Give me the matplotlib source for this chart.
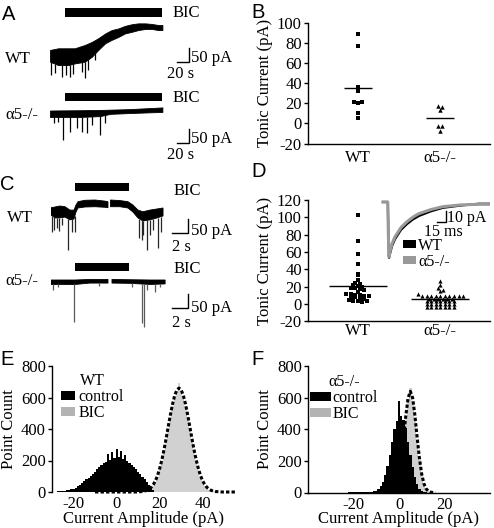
import numpy as np
import matplotlib
matplotlib.use("Agg")
import matplotlib.pyplot as plt
from matplotlib.patches import Patch

plt.rcParams['font.family'] = ['Liberation Serif', 'DejaVu Serif']
plt.rcParams['font.size'] = 12
plt.rcParams['axes.unicode_minus'] = False
plt.rcParams['axes.linewidth'] = 1.0
plt.rcParams['xtick.major.width'] = 1.0
plt.rcParams['ytick.major.width'] = 1.0

W, H = 494, 528

# ---------------- data ----------------
groups = ['WT', 'α5-/-']

# A: long BIC application (time s, current pA); noise band + sIPSCs
a_bic = (24, 176)
a_wt_t = [0, 13, 29, 39, 55, 66, 76, 87, 97, 108, 118, 129, 139, 150, 160, 171, 177]
a_wt_hi = [-2, 4, 4, 4, 16, 27, 40, 57, 69, 75, 84, 90, 93, 93, 91, 87, 87]
a_wt_lo = [-44, -56, -56, -50, -44, -26, -2, 22, 34, 45, 57, 63, 69, 73, 73, 69, 69]
a_wt_spk_t = [1.6, 8, 19, 25, 31.5, 36, 50, 55, 60, 71]
a_wt_spk_i = [-91, -84, -98, -91, -98, -88, -81, -102, -74, -38]

a_ko_t = [0, 47, 79, 95, 126, 177]
a_ko_hi = [0, 1, 2, 3, 5, 11]
a_ko_lo = [-23, -23, -20, -12, -9, -5]
a_ko_spk_t = [7, 13, 21, 31.5, 42, 51, 58, 66, 79, 87]
a_ko_spk_i = [-45, -40, -105, -76, -62, -76, -81, -52, -87, -45]

# B: tonic current per cell (pA)
b_wt = [88.5, 77, 36.5, 32, 21.5, 20, 21, 10, 5.5]
b_ko = [17, 16, 13, -3, -3, -7.5]

# C: short BIC application (time s, current pA), gap = break in recording
c_bic = (2.9, 9.4)
c_wt_t = [0, 0.48, 1.08, 1.68, 2.28, 2.76, 3.0, 3.24, 4.08, 5.28, 6.48, 6.84, 6.95,
          7.14, 8.28, 9.24, 9.84, 10.44, 11.04, 11.88, 12.73, 13.45]
c_wt_hi = [-2.5, 0, 3.6, 1, -11, -11, 7, 19, 24, 25, 21, 19, np.nan,
           25, 23, 19, 7, -11, -17, -11, -7, -3.6]
c_wt_lo = [-28.6, -39, -39, -36, -46, -43, -18, -3.6, 0, 1, -1, -2.5, np.nan,
           1, 1, -3.6, -18, -39, -50, -46, -39, -32]
c_wt_spk_t = [0.12, 0.36, 0.72, 0.96, 1.32, 2.08, 2.52, 2.88, 10.56, 10.89, 11.04,
              11.49, 11.88, 12.24, 12.88, 13.2]
c_wt_spk_i = [-89, -82, -75, -86, -64, -154, -89, -89, -111, -118, -100,
              -154, -100, -82, -146, -89]

c_ko_t = [0, 2.88, 4.68, 6.84, 7.08, 7.32, 9.48, 11.9, 13.7]
c_ko_hi = [0, 0, 2, 2, np.nan, 2, 1, 0, 0]
c_ko_lo = [-16, -16, -11, -11, np.nan, -11, -12, -16, -14]
c_ko_spk_t = [0.28, 0.84, 2.76, 5.76, 9.69, 10.96, 11.2, 11.49, 12.48, 13.1]
c_ko_spk_i = [-36, -25, -149, -21, -24, -155, -167, -36, -42, -25]

# D: tonic current per cell (pA)
d_wt = [103, 73, 58, 46, 35, 33, 28, 24, 23, 22, 21, 20, 19, 18, 17, 16, 14, 12,
        11, 10, 10, 9, 9, 8, 8, 7, 6, 5, 4, 3, 2, 3]
d_ko = [27, 22, 19, 16, 15, 12, 9, 9, 9, 9, 9, 9, 9, 9, 9, 9, 6, 6, 6, 6, 6, 6,
        3, 3, 3, 3, 3, 3, 3, 0, 0, 0, 0, 0, 0, 0, -3, -3, -3, -3, -3, -3, -3]
# D inset: averaged sIPSC (ms, pA)
ipsc_t = [0, 8, 9, 10, 12, 15, 20, 25, 30, 40, 50, 60, 80, 100, 130, 160, 178]
ipsc_wt = [0, 0, -30, -48, -44, -38, -32, -28, -24, -19, -15, -12, -8, -5, -3, -1.5, -1.5]
ipsc_ko = [0, 0, -30, -47, -42, -36, -30, -26, -22, -17, -13, -10, -6.5, -4, -2.5, -2, -2]

# E: all-point histograms, WT (1 pA bins)
e_ctl_x = list(range(-27, 18))
e_ctl_n = [4, 5, 7, 9, 12, 15, 18, 22, 28, 35, 45, 55, 70, 80, 92, 104, 116, 130, 148,
           160, 170, 182, 190, 240, 205, 255, 214, 275, 222, 258, 212, 236, 196, 185,
           172, 160, 145, 130, 112, 97, 80, 64, 45, 30, 12]
e_bic_x = list(range(15, 46))
e_bic_n = [14, 24, 40, 62, 96, 138, 192, 255, 328, 402, 478, 548, 602, 640, 690, 636,
           600, 545, 478, 402, 326, 255, 192, 138, 96, 62, 40, 24, 14, 8, 4]
e_fit_x = list(range(-10, 56))
e_fit_n = [0] * 20 + [1, 2, 3, 6, 10, 18, 29, 46, 70, 104, 148, 202, 267, 339, 416,
                      491, 559, 613, 648, 660, 648, 613, 559, 491, 416, 339, 267, 202,
                      148, 104, 70, 46, 29, 18, 10, 6, 3, 2, 1] + [0] * 7

# F: all-point histograms, a5-/-
f_ctl_x = list(range(-22, 13))
f_ctl_n = [1, 1, 1, 2, 2, 2, 3, 3, 4, 5, 6, 8, 10, 20, 38, 65, 110, 170, 240, 320,
           400, 455, 580, 485, 460, 405, 320, 235, 160, 98, 52, 25, 10, 4, 1]
f_bic_x = list(range(-5, 16))
f_bic_n = [1, 2, 8, 22, 54, 112, 208, 335, 472, 580, 660, 580, 472, 335, 208, 112,
           54, 22, 8, 2, 1]
f_fit_x = list(range(-4, 17))
f_fit_n = [2, 8, 22, 54, 115, 214, 345, 487, 598, 640, 598, 487, 345, 214, 115, 54,
           22, 8, 2, 0, 0]

# ---------------- helpers ----------------
fig = plt.figure(figsize=(W / 100, H / 100), dpi=100)


def box(l, t, r, b):
    return [l / W, 1 - b / H, (r - l) / W, (b - t) / H]


def ftxt(px, py, s, **kw):
    kw.setdefault('va', 'baseline')
    fig.text(px / W, 1 - py / H, s, **kw)


def trace_ax(l, t, r, b, x0, xs, y0, ys):
    ax = fig.add_axes(box(l, t, r, b))
    ax.set_xlim((l - x0) / xs, (r - x0) / xs)
    ax.set_ylim((y0 - b) / ys, (y0 - t) / ys)
    ax.axis('off')
    return ax


def draw_trace(ax, t, hi, lo, st, si, bic, bar_y, sb, spk_col='k'):
    ax.fill_between(t, lo, hi, color='k', lw=0.6)
    top = np.interp(st, t, np.nan_to_num(lo, nan=0.0))
    ax.vlines(st, si, top, color=spk_col, lw=0.9)
    ax.fill_between(bic, bar_y[0], bar_y[1], color='k', lw=0)
    x0, y0, dx, dy = sb
    ax.plot([x0, x0 + dx, x0 + dx], [y0, y0, y0 + dy], color='k', lw=1.0,
            solid_joinstyle='miter', clip_on=False)


def swarm(vals, center, step, dx):
    vals = np.asarray(vals, float)
    rows = np.round(vals / step)
    xs = np.empty_like(vals)
    for r in np.unique(rows):
        idx = np.where(rows == r)[0]
        xs[idx] = center + (np.arange(len(idx)) - (len(idx) - 1) / 2) * dx
    return xs


def style_cat(ax, ylim):
    ax.set_xlim(-0.6, 1.6)
    ax.set_ylim(*ylim)
    ax.set_yticks(range(ylim[0], ylim[1] + 1, 20))
    ax.set_xticks([0, 1])
    ax.set_xticklabels(groups)
    ax.spines[['top', 'right']].set_visible(False)
    ax.tick_params(axis='y', length=3, pad=1.5)
    ax.set_ylabel('Tonic Current (pA)')
    ax.yaxis.set_label_coords(-0.19, 0.5)


letter = dict(family='Liberation Sans', fontsize=14.5)
leg_kw = dict(bbox_transform=fig.transFigure, frameon=False, borderpad=0,
              borderaxespad=0, loc='upper left')

# ---------------- A ----------------
ax = trace_ax(50, 3, 200, 82, 50, 0.635, 49.4, 0.28)
draw_trace(ax, a_wt_t, a_wt_hi, a_wt_lo, a_wt_spk_t, a_wt_spk_i, a_bic, (116, 148),
           (199.5, -46, 20, 50))
ax = trace_ax(50, 88, 200, 162, 50, 0.635, 110.5, 0.28)
draw_trace(ax, a_ko_t, a_ko_hi, a_ko_lo, a_ko_spk_t, a_ko_spk_i, a_bic, (35, 62.5),
           (199.5, -117, 20, 50))
ftxt(2, 20, 'A', **letter)
ftxt(172.7, 17.3, 'BIC')
ftxt(5, 63, 'WT')
ftxt(190.7, 62.5, '50 pA')
ftxt(166.7, 78, '20 s')
ftxt(172.7, 101.7, 'BIC')
ftxt(5, 119, 'α5-/-')
ftxt(190.7, 143.3, '50 pA')
ftxt(166.7, 159.5, '20 s')

# ---------------- C ----------------
ax = trace_ax(51, 178, 200, 258, 51, 8.33, 207, 0.28)
draw_trace(ax, c_wt_t, c_wt_hi, c_wt_lo, c_wt_spk_t, c_wt_spk_i, c_bic, (58, 85),
           (14.49, -93, 2, 50), spk_col='0.15')
ax = trace_ax(51, 258, 200, 335, 51, 8.33, 280, 0.28)
draw_trace(ax, c_ko_t, c_ko_hi, c_ko_lo, c_ko_spk_t, c_ko_spk_i, c_bic, (32, 60),
           (14.49, -101, 2, 50), spk_col='0.35')
ftxt(0, 190, 'C', **letter)
ftxt(173.3, 195, 'BIC')
ftxt(6.7, 221.7, 'WT')
ftxt(190.7, 235, '50 pA')
ftxt(171.7, 250.7, '2 s')
ftxt(173.3, 273.3, 'BIC')
ftxt(5, 285, 'α5-/-')
ftxt(190.7, 311.7, '50 pA')
ftxt(171.7, 327, '2 s')

# ---------------- B ----------------
axb = fig.add_axes(box(308, 22.7, 490, 143.5))
axb.plot(swarm(b_wt, 0, 4, 0.05), b_wt, 's', color='k', ms=2.8, mew=0)
axb.plot(swarm(b_ko, 1, 4, 0.05), b_ko, '^', color='k', ms=3.2, mew=0)
for c, v in enumerate([b_wt, b_ko]):
    axb.hlines(np.mean(v), c - 0.17, c + 0.17, color='k', lw=1)
style_cat(axb, (-20, 100))
axb.tick_params(axis='x', length=0, pad=5)
ftxt(251, 18, 'B', **letter)

# ---------------- D ----------------
axd = fig.add_axes(box(308, 200, 490, 321.3))
axd.plot(swarm(d_wt, 0, 3.5, 0.055), d_wt, 's', color='k', ms=2.8, mew=0)
axd.plot(swarm(d_ko, 1, 3.5, 0.055), d_ko, '^', color='k', ms=3.0, mew=0)
for c, v in enumerate([d_wt, d_ko]):
    axd.hlines(np.mean(v), c - 0.35, c + 0.35, color='k', lw=1)
style_cat(axd, (-20, 120))
axd.tick_params(axis='x', length=0, pad=1.5)
ftxt(251, 177, 'D', **letter)

axi = trace_ax(380, 195, 490, 265, 383, 0.6, 202, 1.16)
axi.plot(ipsc_t, ipsc_wt, color='k', lw=1.6)
axi.plot(ipsc_t, ipsc_ko, color='0.6', lw=2.2)
axi.plot([90, 105, 105], [-17.5, -17.5, -7.5], color='k', lw=1.0, clip_on=False)
ftxt(447, 222, '10 pA', fontsize=11.5)
ftxt(424, 236, '15 ms', fontsize=11.5)
axi.legend([Patch(fc='k', ec='none'), Patch(fc='0.6', ec='none')], groups,
           bbox_to_anchor=(403 / W, 1 - 238 / H), handlelength=0.8,
           handleheight=0.4, handletextpad=0.15, labelspacing=0.0,
           fontsize=11.5, **leg_kw)

# ---------------- E ----------------
axe = fig.add_axes(box(52, 366, 235, 492))
axe.bar(e_bic_x, e_bic_n, width=1.0, color='0.82', lw=0)
axe.bar(e_ctl_x, e_ctl_n, width=1.0, color='k', lw=0)
axe.plot(e_fit_x, e_fit_n, color='k', lw=2.2, ls=(0, (1.1, 0.7)), clip_on=False)
axe.set_xlim(-30, 55)
axe.set_ylim(0, 800)
axe.set_xticks([-20, 0, 20, 40])
axe.set_yticks(range(0, 801, 200))
axe.spines[['top', 'right', 'bottom']].set_visible(False)
axe.tick_params(axis='x', length=0, pad=3)
axe.tick_params(axis='y', length=3, pad=1.5)
axe.set_xlabel('Current Amplitude (pA)', labelpad=-1)
axe.set_ylabel('Point Count')
axe.yaxis.set_label_coords(-0.19, 0.5)
axe.legend([Patch(fc='k', ec='none'), Patch(fc='0.7', ec='none')], ['control', 'BIC'],
           title='WT', bbox_to_anchor=(61 / W, 1 - 373 / H), handlelength=0.9,
           handleheight=0.45, handletextpad=0.2, labelspacing=0.0,
           fontsize=11.5, title_fontsize=11.5, **leg_kw)
ftxt(0, 365, 'E', **letter)

# ---------------- F ----------------
axf = fig.add_axes(box(308, 366, 490, 492.5))
axf.bar(f_bic_x, f_bic_n, width=1.0, color='0.82', lw=0)
axf.bar(f_ctl_x, f_ctl_n, width=1.0, color='k', lw=0)
axf.plot(f_fit_x, f_fit_n, color='k', lw=2.2, ls=(0, (1.1, 0.7)), clip_on=False)
axf.set_xlim(-40, 40)
axf.set_ylim(0, 800)
axf.set_xticks([-20, 0, 20])
axf.set_yticks(range(0, 801, 200))
axf.spines[['top', 'right']].set_visible(False)
axf.tick_params(axis='x', length=0, pad=3)
axf.tick_params(axis='y', length=3, pad=1.5)
axf.set_xlabel('Current Amplitude (pA)', labelpad=-1)
axf.set_ylabel('Point Count')
axf.yaxis.set_label_coords(-0.19, 0.5)
axf.legend([Patch(fc='k', ec='none'), Patch(fc='0.7', ec='none')], ['control', 'BIC'],
           title='α5-/-', bbox_to_anchor=(310 / W, 1 - 374 / H), handlelength=1.3,
           handleheight=0.48, handletextpad=0.1, labelspacing=0.0,
           fontsize=11.5, title_fontsize=11.5, **leg_kw)
ftxt(251, 365, 'F', **letter)

fig.savefig('out.png', dpi=100)
